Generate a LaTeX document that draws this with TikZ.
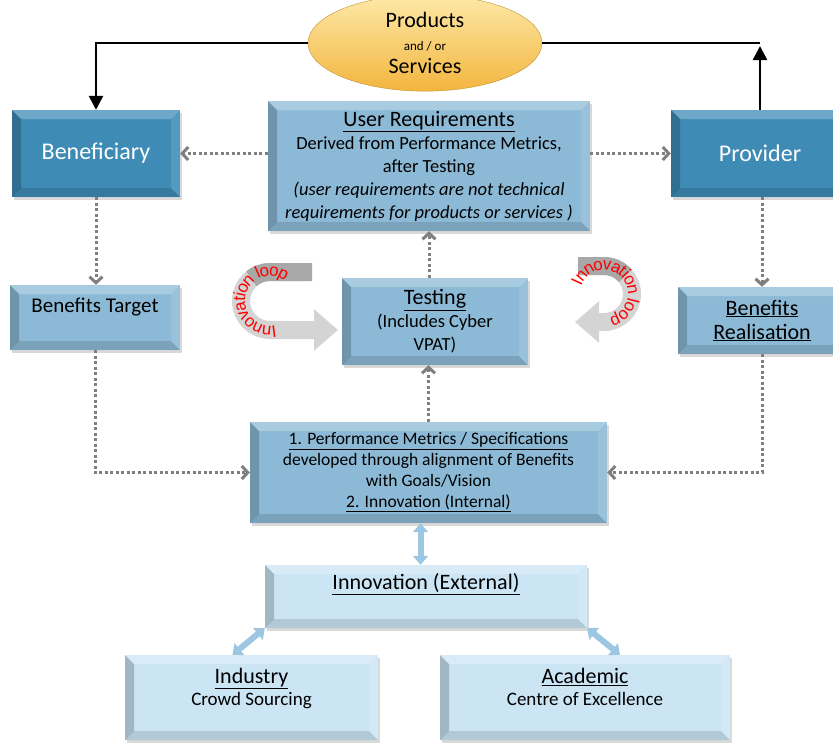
\documentclass[tikz,border=0pt]{standalone}
\usepackage{fontspec}
\setmainfont{Carlito}
\newfontfamily\loopfont{Liberation Sans}
\usetikzlibrary{arrows.meta,shapes.geometric,shadows,decorations.text}

\definecolor{benblue}{HTML}{3E8BB6}
\definecolor{reqblue}{HTML}{8CBAD6}
\definecolor{extblue}{HTML}{CBE5F5}
\definecolor{dotgray}{HTML}{7F7F7F}
\definecolor{linkblue}{HTML}{9CC6E2}
\definecolor{loopgray}{HTML}{D4D4D4}
\definecolor{looptop}{HTML}{A8A8A8}
\definecolor{goldtop}{HTML}{FDE9A8}
\definecolor{goldbot}{HTML}{F3B53E}

\tikzset{
  bevel/.style={path picture={
    \path (path picture bounding box.north west) coordinate (bv1)
          (path picture bounding box.north east) coordinate (bv2)
          (path picture bounding box.south east) coordinate (bv3)
          (path picture bounding box.south west) coordinate (bv4);
    \fill[white,opacity=.25] (bv1) -- (bv2) -- ([shift={(-9,-9)}]bv2) -- ([shift={(9,-9)}]bv1) -- cycle;
    \fill[white,opacity=.12] (bv2) -- (bv3) -- ([shift={(-9,9)}]bv3) -- ([shift={(-9,-9)}]bv2) -- cycle;
    \fill[black,opacity=.12] (bv3) -- (bv4) -- ([shift={(9,9)}]bv4) -- ([shift={(-9,9)}]bv3) -- cycle;
    \fill[black,opacity=.2] (bv4) -- (bv1) -- ([shift={(9,-9)}]bv1) -- ([shift={(9,9)}]bv4) -- cycle;
  }},
  box/.style={rectangle, align=center, inner sep=2pt, bevel,
    drop shadow={opacity=.3, shadow xshift=2pt, shadow yshift=-3pt}},
  actor/.style={box, fill=benblue, text=white, font=\fontsize{24}{28}\selectfont},
  stage/.style={box, fill=reqblue, font=\fontsize{18.5}{23}\selectfont},
  source/.style={box, fill=extblue, font=\fontsize{19}{22}\selectfont},
  dotlink/.style={dotgray, line width=3pt, dash pattern=on 3pt off 2.5pt,
    -{Straight Barb[length=6pt,width=13pt]}},
  mainlink/.style={black, line width=2.5pt},
  extlink/.style={linkblue, line width=6pt,
    {Triangle[length=9pt,width=15pt]}-{Triangle[length=9pt,width=15pt]}},
  loopband/.style={loopgray, line width=18pt},
  looptext/.style={decorate, decoration={text along path, raise=-4pt,
    text={|\loopfont\fontsize{17}{17}\selectfont\color{red}|Innovation loop}}},
}

\begin{document}
\begin{tikzpicture}[x=1pt,y=1pt]
  \useasboundingbox (0,0) rectangle (833,-742);

  % top ellipse
  \node[ellipse, minimum width=234, minimum height=78, top color=goldtop,
    bottom color=goldbot, draw=goldbot!80!black, thin, align=center,
    font=\fontsize{22}{23}\selectfont] (prodserv) at (425,-43)
    {Products\\{\fontsize{13}{23}\selectfont and / or}\\Services};

  % boxes
  \node[actor, minimum width=168, minimum height=87] (benef) at (96,-153.5) {Beneficiary};
  \node[actor, minimum width=178, minimum height=87] (prov) at (760,-153.5) {Provider};
  \node[stage, minimum width=322, minimum height=130] (userreq) at (429,-166)
    {{\fontsize{22}{24}\selectfont\underline{User Requirements}}\\
     Derived from Performance Metrics,\\after Testing\\
     \textit{(user requirements are not technical}\\
     \textit{requirements for products or services )}};
  \node[stage, minimum width=170, minimum height=65, font=\fontsize{21}{24}\selectfont,
    text depth=25pt] (bentarget) at (95,-317.5) {Benefits Target};
  \node[stage, minimum width=186, minimum height=87] (testing) at (435,-321.5)
    {{\fontsize{22}{24}\selectfont\underline{Testing}}\\(Includes Cyber\\VPAT)};
  \node[stage, minimum width=168, minimum height=67, font=\fontsize{22}{24}\selectfont]
    (benreal) at (762,-320.5) {\underline{Benefits}\\\underline{Realisation}};
  \node[stage, minimum width=357, minimum height=101, font=\fontsize{17.5}{21}\selectfont]
    (perf) at (428.5,-472.5)
    {\underline{1. Performance Metrics / Specifications}\\
     developed through alignment of Benefits\\with Goals/Vision\\
     \underline{2. Innovation (Internal)}};
  \node[source, minimum width=322, minimum height=63, font=\fontsize{22}{24}\selectfont,
    text depth=30pt] (innovext) at (426,-596.5) {\underline{Innovation (External)}};
  \node[source, minimum width=253, minimum height=85] (industry) at (251.5,-697.5)
    {{\fontsize{22}{24}\selectfont\underline{Industry}}\\Crowd Sourcing\\\mbox{}};
  \node[source, minimum width=290, minimum height=85] (academic) at (585,-697.5)
    {{\fontsize{22}{24}\selectfont\underline{Academic}}\\Centre of Excellence\\\mbox{}};

  % solid black loop through the ellipse
  \coordinate (provtop) at (prov.north |- prodserv.east);
  \draw[mainlink, -{Triangle[length=14pt,width=14pt]}] (prodserv.west) -| (benef.north);
  \draw[mainlink, -{Triangle[length=14pt,width=14pt]}] (prov.north) -- ([yshift=-3pt]provtop);
  \draw[mainlink] (provtop) -- (prodserv.east);

  % dotted links
  \draw[dotlink] (userreq.west |- benef.east) -- (benef.east);
  \draw[dotlink] (userreq.east |- prov.west) -- (prov.west);
  \draw[dotlink] (benef.south) -- (benef.south |- bentarget.north);
  \draw[dotlink] (benreal.north |- prov.south) -- (benreal.north);
  \draw[dotlink] (userreq.south |- testing.north) -- (userreq.south);
  \draw[dotlink] (perf.north) -- (perf.north |- testing.south);
  \draw[dotlink] (bentarget.south) |- (perf.west);
  \draw[dotlink] (benreal.south) |- (perf.east);

  % innovation links
  \draw[extlink] ([xshift=-8pt]perf.south) -- ([xshift=-8pt]perf.south |- innovext.north);
  \draw[extlink] (innovext.south west) -- ([xshift=-19pt]industry.north);
  \draw[extlink] (innovext.south east) -- ([xshift=35pt]academic.north);

  % innovation loops
  \draw[loopband, -{Triangle[length=24pt,width=40pt]}]
    (306,-272) -- (270,-272) arc[start angle=90, end angle=270, radius=29] -- (338,-330);
  \draw[loopband, looptop] (312,-272) -- (270,-272) arc[start angle=90, end angle=130, radius=29];
  \path[looptext] (270,-301) ++(-78:29) arc[start angle=-78, end angle=-322, radius=29];

  \draw[loopband, -{Triangle[length=24pt,width=40pt]}]
    (580,-266) -- (604,-266) arc[start angle=90, end angle=-90, radius=28] -- (575,-322);
  \draw[loopband, looptop] (578,-266) -- (604,-266) arc[start angle=90, end angle=40, radius=28];
  \path[looptext] (604,-294) ++(160:28) arc[start angle=160, end angle=-100, radius=28];
\end{tikzpicture}
\end{document}
